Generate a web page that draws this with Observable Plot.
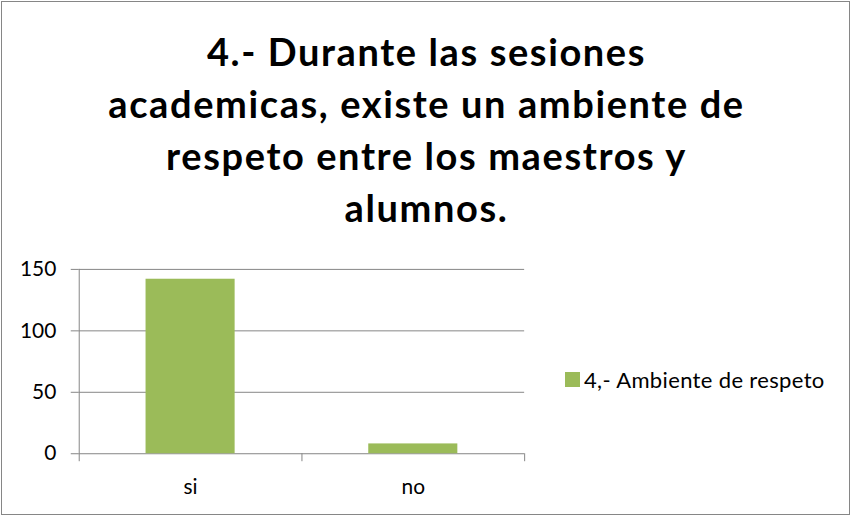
<!DOCTYPE html>
<html>
<head>
<meta charset="utf-8">
<script src="https://cdn.jsdelivr.net/npm/d3@7"></script>
<script src="https://cdn.jsdelivr.net/npm/@observablehq/plot@0.6"></script>
<style>
  html, body { margin: 0; padding: 0; background: #fff; }
  #frame {
    position: absolute; left: 1px; top: 1px; width: 849px; height: 514px;
    box-sizing: border-box; border: 1px solid #868686; background: #fff;
    font-family: Lato, "Open Sans", sans-serif;
  }
  #title {
    position: absolute; left: 0; top: 23px; width: 849px; text-align: center;
    font-weight: bold; font-size: 38px; line-height: 52px; letter-spacing: 1.6px; color: #000;
  }
  #chart { position: absolute; left: -1px; top: 239px; }
  #legend {
    position: absolute; left: 563px; top: 364px; font-size: 22px; letter-spacing: 0.35px; color: #000;
    display: flex; align-items: center; white-space: nowrap; line-height: 27px;
  }
  #legend .sw { width: 15px; height: 15px; background: #9BBB59; margin-right: 4px; }
</style>
</head>
<body>
<div id="frame">
  <div id="title"></div>
  <div id="chart"></div>
  <div id="legend"></div>
</div>
<script>
const titleLines = ["4.- Durante las sesiones", "academicas, existe un ambiente de", "respeto entre los maestros y", "alumnos."];
const categories = ["si", "no"];
const values = [142, 8];
const seriesName = "4,- Ambiente de respeto";
const yTicks = [0, 50, 100, 150];
const barColor = "#9BBB59";
const gridColor = "#868686";

const title = document.getElementById("title");
titleLines.forEach(t => { const d = document.createElement("div"); d.textContent = t; title.appendChild(d); });

const legend = document.getElementById("legend");
legend.innerHTML = `<span class="sw"></span><span></span>`;
legend.lastChild.textContent = seriesName;

const data = categories.map((c, i) => ({cat: c, i, v: values[i]}));
const idx = categories.map((c, i) => i);
const bounds = d3.range(-0.5, categories.length, 1);

const plot = Plot.plot({
  width: 851,
  height: 277,
  marginTop: 28,
  marginBottom: 64,
  marginLeft: 78,
  marginRight: 326,
  style: {fontFamily: "Lato, 'Open Sans', sans-serif", fontSize: "21px", color: "#000", background: "transparent"},
  x: {domain: [-0.5, categories.length - 0.5]},
  y: {domain: [0, 150]},
  marks: [
    Plot.ruleY(yTicks, {stroke: gridColor, strokeWidth: 1}),
    Plot.rectY(data, {x1: d => d.i - 0.2, x2: d => d.i + 0.2, y: "v", fill: barColor}),
    Plot.ruleX([-0.5], {y1: 0, y2: 150, stroke: gridColor}),
    Plot.axisY({ticks: yTicks, tickSize: 8, tickPadding: 15, stroke: gridColor, strokeOpacity: 1, fill: "#000", fontSize: 21, label: null}),
    Plot.axisX({ticks: bounds, tickSize: 8, tickFormat: () => "", stroke: gridColor, strokeOpacity: 1, label: null}),
    Plot.axisX({ticks: idx, tickSize: 0, tickPadding: 25, tickFormat: i => categories[i], fill: "#000", fontSize: 21, label: null})
  ]
});
document.getElementById("chart").appendChild(plot);
</script>
</body>
</html>
